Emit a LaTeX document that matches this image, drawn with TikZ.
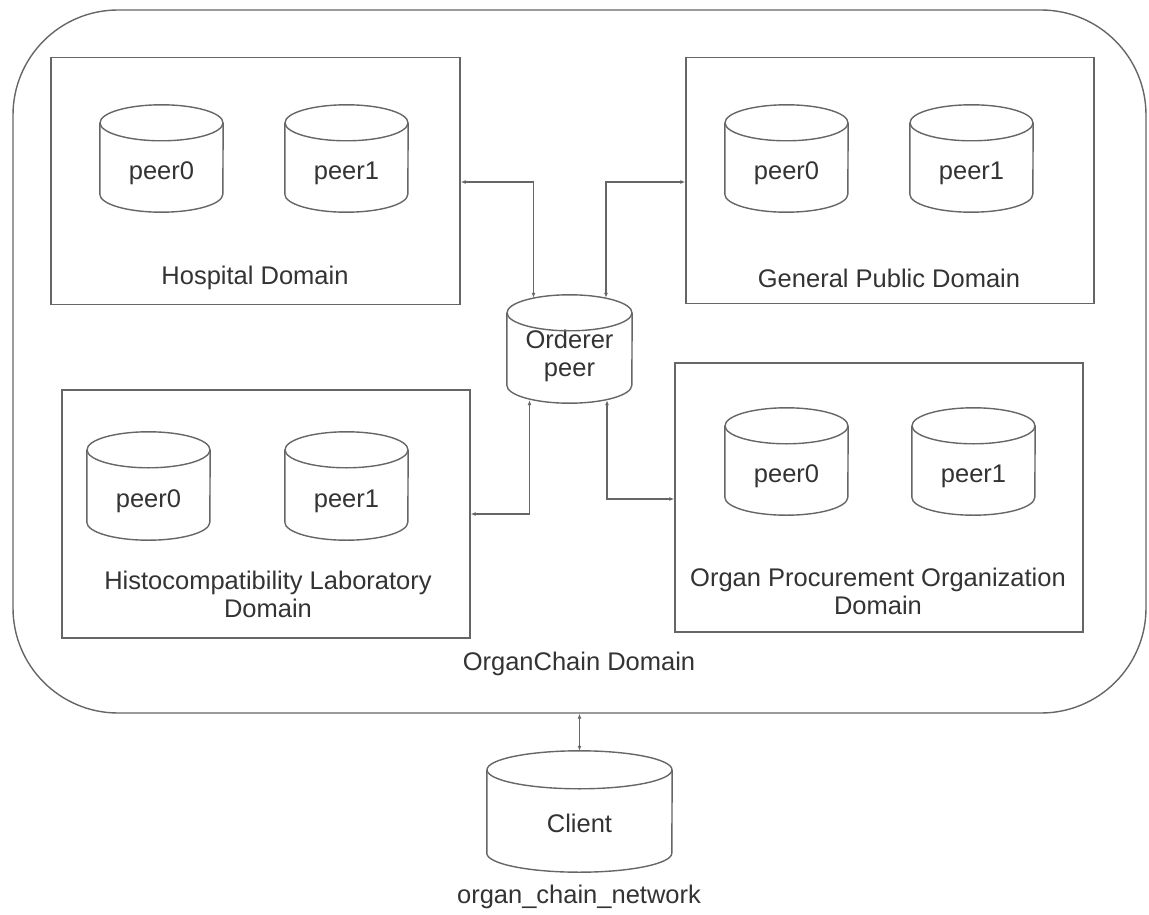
\documentclass[tikz,border=0pt]{standalone}
\usepackage{fontspec}
\setmainfont{Liberation Sans}
\usetikzlibrary{arrows.meta,calc}

\definecolor{linegray}{HTML}{666666}
\definecolor{textgray}{HTML}{333333}

\tikzset{
  edge/.style={draw=linegray, line width=1.4pt},
  domainbox/.style={draw=linegray, line width=1.4pt, inner sep=0pt},
  cylbox/.style={inner sep=0pt, draw=none},
  txt/.style={text=textgray, font=\fontsize{25.5pt}{28pt}\selectfont, align=center, inner sep=0pt},
  link/.style={draw=linegray, line width=1.2pt, {Latex[length=5pt,width=4pt]}-{Latex[length=5pt,width=4pt]}},
}

% database cylinder: name, cx, cy, half-width, half-height, ry, text drop, text
\newcommand\dbcyl[8]{%
  \node[cylbox, minimum width=2*#4pt, minimum height=2*#5pt,
        label={[txt, yshift=-#7pt]center:#8}] (#1) at (#2,#3) {};
  \draw[edge] ($(#1.north)+(0pt,-#6pt)$) ellipse[x radius=#4pt, y radius=#6pt];
  \draw[edge] ($(#1.north west)+(0pt,-#6pt)$) -- ($(#1.south west)+(0pt,#6pt)$)
    arc[start angle=180, end angle=360, x radius=#4pt, y radius=#6pt]
    -- ($(#1.north east)+(0pt,-#6pt)$);
}

\begin{document}
\begin{tikzpicture}[x=1pt, y=1pt]
\useasboundingbox (0,0) rectangle (1149,-915);

% overall network domain
\node[domainbox, rounded corners=105pt, minimum width=1133pt, minimum height=703pt] (net) at (579.5,-361.5) {};
\node[txt] (netlbl) at (579,-664) {OrganChain Domain};

% organisation domains
\node[domainbox, minimum width=409pt, minimum height=247pt] (hosp) at (255.5,-181) {};
\node[domainbox, minimum width=408pt, minimum height=246pt] (pub) at (890,-180.5) {};
\node[domainbox, minimum width=408pt, minimum height=248pt] (lab) at (266,-514) {};
\node[domainbox, minimum width=408pt, minimum height=269pt] (opo) at (879,-497.5) {};

\node[txt] (hosplbl) at (255,-278) {Hospital Domain};
\node[txt] (publbl) at (889,-278) {General Public Domain};
\node[txt] (lablbl) at (268,-594) {Histocompatibility Laboratory\\Domain};
\node[txt] (opolbl) at (878,-591) {Organ Procurement Organization\\Domain};

% peers
\dbcyl{hp0}{161.5}{-158.5}{61.5}{53.5}{18}{15}{peer0}
\dbcyl{hp1}{346.5}{-158.5}{61.5}{53.5}{18}{15}{peer1}
\dbcyl{gp0}{786.5}{-158.5}{61.5}{53.5}{18}{15}{peer0}
\dbcyl{gp1}{971.5}{-158.5}{61.5}{53.5}{18}{15}{peer1}
\dbcyl{lp0}{148.5}{-486}{61.5}{54}{18}{15}{peer0}
\dbcyl{lp1}{346.5}{-486}{61.5}{54}{18}{15}{peer1}
\dbcyl{op0}{786.5}{-461.5}{61.5}{53.5}{18}{15}{peer0}
\dbcyl{op1}{973.5}{-461.5}{61.5}{53.5}{18}{15}{peer1}

% ordering service and client
\dbcyl{ord}{569.5}{-349}{62.5}{54}{18}{6.5}{Orderer\\peer}
\dbcyl{cli}{579.5}{-811.5}{92.5}{60.5}{19}{12}{Client}
\node[txt] (netname) at (579,-897) {organ\_chain\_network};

% connections to the orderer
\draw[link] (hosp.east |- 0,-182) -| ($(ord.north)+(-36pt,-3pt)$);
\draw[link] (pub.west |- 0,-182) -| ($(ord.north)+(36.5pt,-3pt)$);
\draw[link] (lab.east |- 0,-514) -| ($(ord.south)+(-40pt,3pt)$);
\draw[link] (opo.west |- 0,-499) -| ($(ord.south)+(37.5pt,3pt)$);

% client link
\draw[link] (net.south -| cli.north) -- (cli.north);
\end{tikzpicture}
\end{document}
